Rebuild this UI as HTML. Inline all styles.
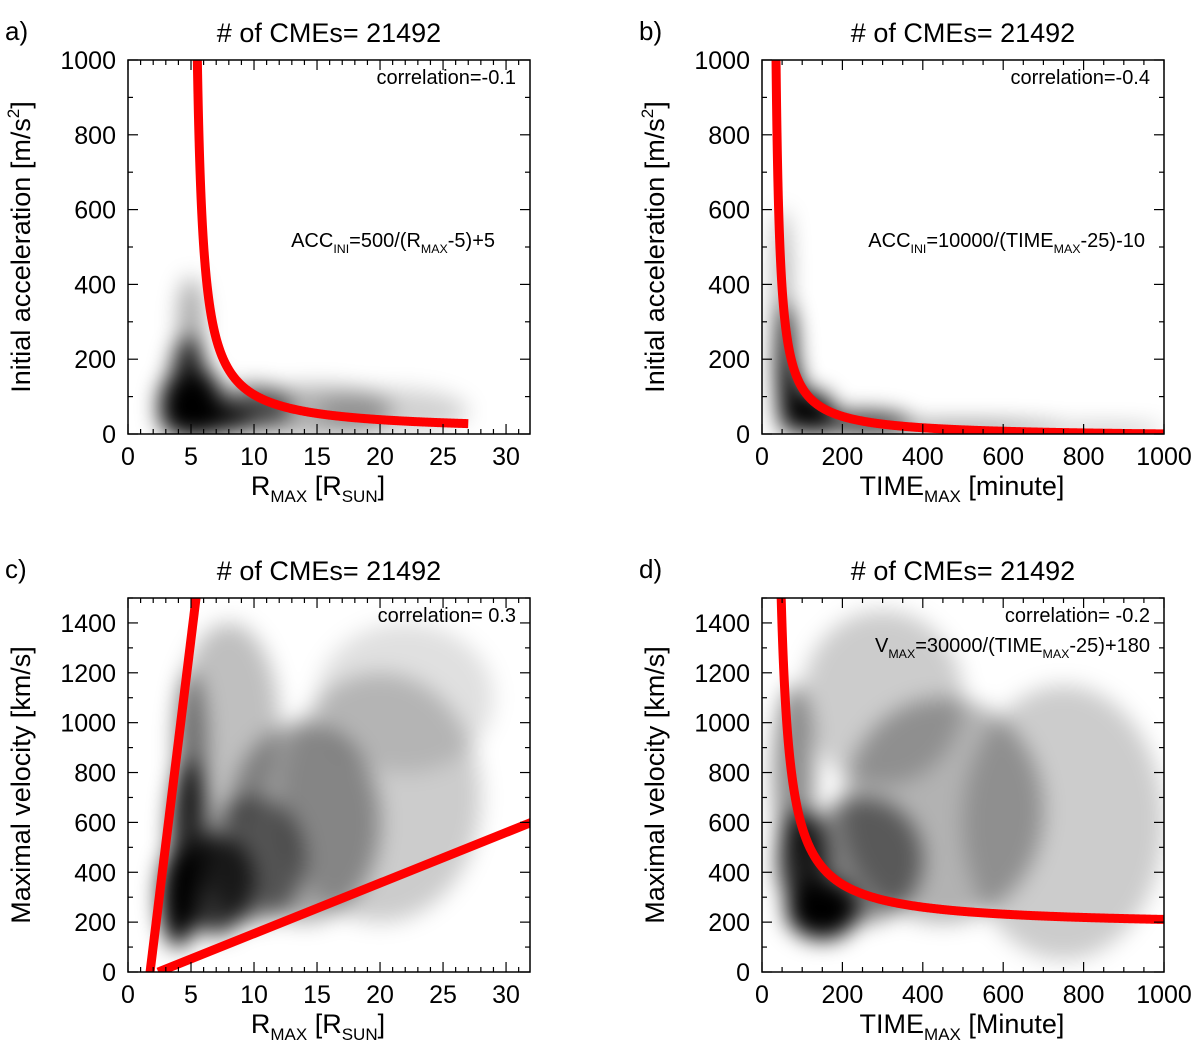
<!DOCTYPE html>
<html><head><meta charset="utf-8">
<style>
body{margin:0;background:#fff;}
svg{display:block;font-family:"Liberation Sans",sans-serif;}
</style></head>
<body>
<svg id="fig" width="1200" height="1053" viewBox="0 0 1200 1053" xmlns="http://www.w3.org/2000/svg">
<defs>
<filter id="blur" x="-50%" y="-50%" width="200%" height="200%"><feGaussianBlur stdDeviation="11"/></filter>
</defs>
</svg>
<script>
// ----- data -----
const panelLetters = ["a)", "b)", "c)", "d)"];
const titles = ["# of CMEs= 21492", "# of CMEs= 21492", "# of CMEs= 21492", "# of CMEs= 21492"];
const xTicksR = [0, 5, 10, 15, 20, 25, 30];
const xTicksT = [0, 200, 400, 600, 800, 1000];
const yTicksAcc = [0, 200, 400, 600, 800, 1000];
const yTicksVel = [0, 200, 400, 600, 800, 1000, 1200, 1400];
const correlations = ["correlation=-0.1", "correlation=-0.4", "correlation= 0.3", "correlation= -0.2"];
// density blobs: [x, y, rx, ry, opacity] (data units)
const densityA = [[5,50,2.5,60,1],[7,40,3,40,.9],[4,80,1.5,80,1],[6,80,1.5,90,1],[4.8,150,1.4,110,.85],[5,300,1,120,.35],[10,70,3,60,.6],[15,60,6,70,.3],[21,60,6,60,.18]];
const densityB = [[60,200,25,150,.9],[70,100,30,100,1],[130,40,50,40,1],[50,400,15,200,.45],[120,60,60,55,.95],[250,30,120,30,.8],[500,15,250,15,.55],[850,10,150,10,.4]];
const densityC = [[4,300,1.5,200,1],[4.8,550,1.5,300,.85],[5,900,1.2,300,.45],[7,350,3,200,.8],[10,450,4,250,.5],[14,600,6,400,.35],[20,700,8,500,.2],[8,1000,4,400,.25],[22,1100,7,300,.12]];
const densityD = [[150,250,90,120,1],[100,450,60,200,.85],[80,800,50,350,.45],[250,450,150,250,.5],[450,650,250,450,.3],[750,600,250,550,.2],[300,1100,200,350,.2]];
// fit coefficients: y = a/(x-b)+c
const fitA = [500, 5, 5];
const fitB = [10000, 25, -10];
const fitD = [30000, 25, 180];
// lines in panel c: [x0,y0,x1,y1]
const linesC = [[1.75,0,5.4,1500],[2.4,0,32,600]];

const NS = "http://www.w3.org/2000/svg";
const svg = document.getElementById("fig");
function mk(tag, attrs, parent){const e=document.createElementNS(NS,tag);for(const k in attrs)e.setAttribute(k,attrs[k]);(parent||svg).appendChild(e);return e;}

function panel(idx, box, xr, yr, xt, yt, xminor, yminor, density){
  const [x0,y0,x1,y1]=box;
  const g=mk("g",{});
  
  
  const sx=v=>x0+(v-xr[0])/(xr[1]-xr[0])*(x1-x0);
  const sy=v=>y1-(v-yr[0])/(yr[1]-yr[0])*(y1-y0);
  const cid="clip"+idx;
  const cp=mk("clipPath",{id:cid},g); mk("rect",{x:x0,y:y0,width:x1-x0,height:y1-y0},cp);
  const dg=mk("g",{"clip-path":"url(#"+cid+")"},g);
  const bg=mk("g",{filter:"url(#blur)"},dg);
  density.forEach(d=>{
    const e=mk("ellipse",{cx:sx(d[0]),cy:sy(d[1]),rx:Math.abs(sx(d[0]+d[2])-sx(d[0])),ry:Math.abs(sy(d[1]+d[3])-sy(d[1])),fill:"#000","fill-opacity":d[4]},bg);
    
    
  });
  mk("rect",{x:x0,y:y0,width:x1-x0,height:y1-y0,fill:"none",stroke:"#000","stroke-width":1.5},g);
  for(let v=xr[0];v<=xr[1]+1e-9;v+=xminor){const X=sx(v);const maj=xt.some(t=>Math.abs(t-v)<1e-6);const L=maj?10:5;
    mk("line",{x1:X,y1:y1,x2:X,y2:y1-L,stroke:"#000","stroke-width":1.2},g);mk("line",{x1:X,y1:y0,x2:X,y2:y0+L,stroke:"#000","stroke-width":1.2},g);}
  for(let v=yr[0];v<=yr[1]+1e-9;v+=yminor){const Y=sy(v);const maj=yt.some(t=>Math.abs(t-v)<1e-6);const L=maj?10:5;
    mk("line",{x1:x0,y1:Y,x2:x0+L,y2:Y,stroke:"#000","stroke-width":1.2},g);mk("line",{x1:x1,y1:Y,x2:x1-L,y2:Y,stroke:"#000","stroke-width":1.2},g);}
  xt.forEach(t=>{const e=mk("text",{x:sx(t),y:y1+31,"font-size":25,"text-anchor":"middle"},g);e.textContent=t;
    });
  yt.forEach(t=>{const e=mk("text",{x:x0-12,y:sy(t)+9,"font-size":25,"text-anchor":"end"},g);e.textContent=t;
    });
  const lt=mk("text",{x:x0-123,y:y0-20,"font-size":26},g);lt.textContent=panelLetters[idx];
  
  const tt=mk("text",{x:(x0+x1)/2,y:y0-18,"font-size":27,"text-anchor":"middle"},g);tt.textContent=titles[idx];
  
  const ct=mk("text",{x:x1-14,y:y0+24,"font-size":20,"text-anchor":"end"},g);ct.textContent=correlations[idx];
  
  return {g,sx,sy,dg};
}
function fitPath(p,f,xb,ymax){
  const xa=f[1]+f[0]/(ymax*1.02-f[2]);
  let d="";const n=600;
  for(let i=0;i<=n;i++){const t=i/n;const x=xa+(xb-xa)*t*t;const y=f[0]/(x-f[1])+f[2];d+=(i?"L":"M")+p.sx(x).toFixed(2)+","+p.sy(y).toFixed(2);}
  const e=mk("path",{d:d,fill:"none",stroke:"#f00","stroke-width":9},p.dg);
  }
function html(parent,x,y,size,anchor,parts,name){const t=mk("text",{x:x,y:y,"font-size":size,"text-anchor":anchor},parent);
  parts.forEach(pt=>{const s=mk("tspan",pt[1]?{"font-size":size*0.62,dy:6}:{dy:pt[2]||0},t);s.textContent=pt[0];});
  return t;}

const pa=panel(0,[128,60,530,434],[0,31.9],[0,1000],xTicksR,yTicksAcc,1,100,densityA);
fitPath(pa,fitA,27,1000);
html(pa.g,495,247,20,"end",[["ACC"],["INI",1],["=500/(R",0,-6],["MAX",1],["-5)+5",0,-6]],"fit-formula");
const pb=panel(1,[762,60,1164,434],[0,1000],[0,1000],xTicksT,yTicksAcc,50,100,densityB);
fitPath(pb,fitB,1000,1000);
html(pb.g,1145,247,20,"end",[["ACC"],["INI",1],["=10000/(TIME",0,-6],["MAX",1],["-25)-10",0,-6]],"fit-formula");
const pc=panel(2,[128,598,530,972],[0,31.9],[0,1500],xTicksR,yTicksVel,1,100,densityC);
linesC.forEach(l=>{const e=mk("line",{x1:pc.sx(l[0]),y1:pc.sy(l[1]),x2:pc.sx(l[2]),y2:pc.sy(l[3]),stroke:"#f00","stroke-width":9},pc.dg);
  });
const pd=panel(3,[762,598,1164,972],[0,1000],[0,1500],xTicksT,yTicksVel,50,100,densityD);
fitPath(pd,fitD,1000,1500);
html(pd.g,1150,652,20,"end",[["V"],["MAX",1],["=30000/(TIME",0,-6],["MAX",1],["-25)+180",0,-6]],"fit-formula");

function rot(x,y,txt,name){const t=mk("text",{x:x,y:y,"font-size":27,"text-anchor":"middle",transform:"rotate(-90 "+x+" "+y+")"});
  t.innerHTML=txt;}
rot(30,247,'Initial acceleration [m/s<tspan font-size="17" dy="-11">2</tspan><tspan dy="11">]</tspan>',"y-axis-title");
rot(664,247,'Initial acceleration [m/s<tspan font-size="17" dy="-11">2</tspan><tspan dy="11">]</tspan>',"y-axis-title");
rot(30,785,'Maximal velocity [km/s]',"y-axis-title");
rot(664,785,'Maximal velocity [km/s]',"y-axis-title");
function xt(x,y,txt,name){const t=mk("text",{x:x,y:y,"font-size":27,"text-anchor":"middle"});t.innerHTML=txt;
  }
xt(318,495,'R<tspan font-size="17" dy="7">MAX</tspan><tspan dy="-7"> [R</tspan><tspan font-size="17" dy="7">SUN</tspan><tspan dy="-7">]</tspan>',"x-axis-title");
xt(318,1033,'R<tspan font-size="17" dy="7">MAX</tspan><tspan dy="-7"> [R</tspan><tspan font-size="17" dy="7">SUN</tspan><tspan dy="-7">]</tspan>',"x-axis-title");
xt(962,495,'TIME<tspan font-size="17" dy="7">MAX</tspan><tspan dy="-7"> [minute]</tspan>',"x-axis-title");
xt(962,1033,'TIME<tspan font-size="17" dy="7">MAX</tspan><tspan dy="-7"> [Minute]</tspan>',"x-axis-title");
</script>
</body></html>
